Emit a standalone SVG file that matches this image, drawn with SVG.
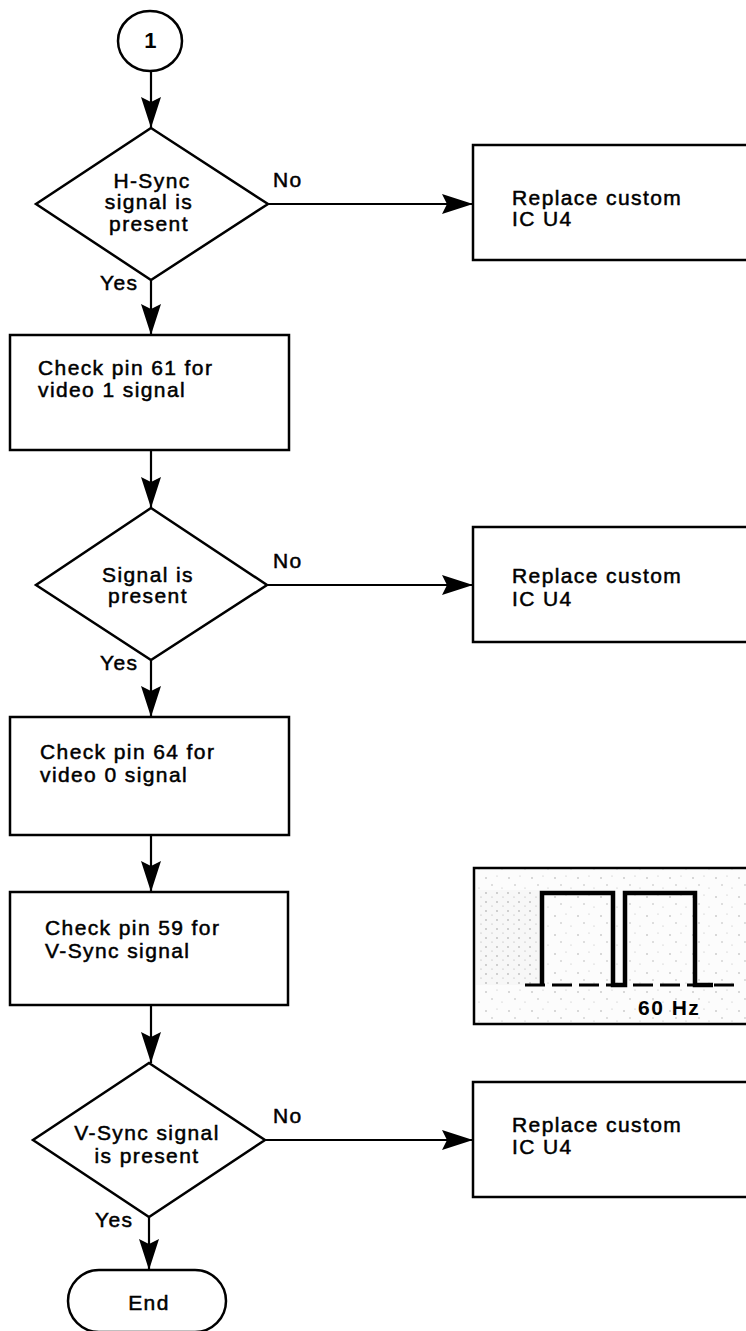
<svg xmlns="http://www.w3.org/2000/svg" width="746" height="1331" viewBox="0 0 746 1331">
<style>
.shape{fill:#fff;stroke:#000;stroke-width:2.5}
.line{fill:none;stroke:#000;stroke-width:2.2}
text{font-family:"Liberation Sans",Arial,Helvetica,sans-serif;font-size:21px;letter-spacing:1.4px;fill:#000;stroke:#000;stroke-width:0.5}
.c{text-anchor:middle}
</style>
<defs>
<marker id="ah" markerUnits="userSpaceOnUse" markerWidth="32" markerHeight="20" refX="31" refY="10" orient="auto">
<path d="M0,0 L31,10 L0,20 L5,10 z" fill="#000"/>
</marker>
<pattern id="stip" width="23" height="19" patternUnits="userSpaceOnUse">
<rect width="23" height="19" fill="#fcfcfc"/>
<circle cx="3" cy="4" r="0.7" fill="#999"/>
<circle cx="14" cy="2" r="0.6" fill="#bbb"/>
<circle cx="9" cy="11" r="0.7" fill="#aaa"/>
<circle cx="19" cy="14" r="0.6" fill="#bbb"/>
</pattern>
<pattern id="stip2" width="11" height="9" patternUnits="userSpaceOnUse">
<rect width="11" height="9" fill="#f7f7f7"/>
<circle cx="2" cy="2" r="0.7" fill="#888"/>
<circle cx="8" cy="6" r="0.6" fill="#aaa"/>
</pattern>
</defs>

<g id="connectors">
<line class="line" x1="151" y1="71" x2="151" y2="128" marker-end="url(#ah)"/>
<line class="line" x1="268" y1="204" x2="473" y2="204" marker-end="url(#ah)"/>
<line class="line" x1="151" y1="280" x2="151" y2="335" marker-end="url(#ah)"/>
<line class="line" x1="151" y1="450" x2="151" y2="508" marker-end="url(#ah)"/>
<line class="line" x1="267" y1="585" x2="473" y2="585" marker-end="url(#ah)"/>
<line class="line" x1="151" y1="660" x2="151" y2="717" marker-end="url(#ah)"/>
<line class="line" x1="151" y1="835" x2="151" y2="892" marker-end="url(#ah)"/>
<line class="line" x1="151" y1="1005" x2="151" y2="1063" marker-end="url(#ah)"/>
<line class="line" x1="265" y1="1140" x2="473" y2="1140" marker-end="url(#ah)"/>
<line class="line" x1="149" y1="1217" x2="149" y2="1270" marker-end="url(#ah)"/>
<text x="273" y="187">No</text>
<text x="100" y="290">Yes</text>
<text x="273" y="568">No</text>
<text x="100" y="670">Yes</text>
<text x="273" y="1123">No</text>
<text x="95" y="1227">Yes</text>
</g>

<g id="start">
<ellipse class="shape" cx="150" cy="41" rx="32" ry="30"/>
<text class="c" x="151" y="48" style="font-size:22px;font-weight:bold;stroke-width:0">1</text>
</g>

<g id="dec1">
<polygon class="shape" points="151,128 268,204 151,280 36,204"/>
<text class="c" x="152" y="188">H-Sync</text>
<text class="c" x="149" y="209">signal is</text>
<text class="c" x="149" y="231">present</text>
</g>

<g id="rep1">
<rect class="shape" x="473" y="145" width="290" height="115"/>
<text x="512" y="205">Replace custom</text>
<text x="512" y="226">IC U4</text>
</g>

<g id="box1">
<rect class="shape" x="10" y="335" width="279" height="115"/>
<text x="38" y="375">Check pin 61 for</text>
<text x="38" y="397">video 1 signal</text>
</g>

<g id="dec2">
<polygon class="shape" points="151,508 267,585 151,660 36,585"/>
<text class="c" x="148" y="582">Signal is</text>
<text class="c" x="148" y="603">present</text>
</g>

<g id="rep2">
<rect class="shape" x="473" y="527" width="290" height="115"/>
<text x="512" y="583">Replace custom</text>
<text x="512" y="606">IC U4</text>
</g>

<g id="box2">
<rect class="shape" x="10" y="717" width="279" height="118"/>
<text x="40" y="759">Check pin 64 for</text>
<text x="40" y="782">video 0 signal</text>
</g>

<g id="box3">
<rect class="shape" x="10" y="892" width="278" height="113"/>
<text x="45" y="935">Check pin 59 for</text>
<text x="45" y="958">V-Sync signal</text>
</g>

<g id="waveform">
<rect x="474" y="868" width="290" height="156" fill="url(#stip)" stroke="#000" stroke-width="2.5"/>
<rect x="476" y="890" width="64" height="95" fill="url(#stip2)"/>
<line x1="525" y1="985" x2="735" y2="985" stroke="#000" stroke-width="3" stroke-dasharray="20,7"/>
<path d="M542,985 V893 H613 V985 H625 V893 H695 V985 H713" fill="none" stroke="#000" stroke-width="4.5"/>
<text x="638" y="1015" font-weight="bold" style="letter-spacing:1.5px;stroke-width:0">60 Hz</text>
</g>

<g id="dec3">
<polygon class="shape" points="149,1063 265,1140 149,1217 33,1140"/>
<text class="c" x="147" y="1140">V-Sync signal</text>
<text class="c" x="147" y="1163">is present</text>
</g>

<g id="rep3">
<rect class="shape" x="473" y="1082" width="290" height="115"/>
<text x="512" y="1132">Replace custom</text>
<text x="512" y="1154">IC U4</text>
</g>

<g id="end">
<rect class="shape" x="68" y="1270" width="158" height="62" rx="31" ry="31"/>
<text class="c" x="149" y="1310">End</text>
</g>
</svg>
